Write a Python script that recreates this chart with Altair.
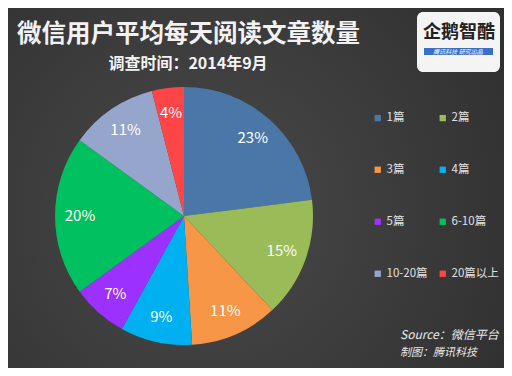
import altair as alt
import pandas as pd

categories = ["1篇", "2篇", "3篇", "4篇", "5篇", "6-10篇", "10-20篇", "20篇以上"]
shares = [23, 15, 11, 9, 7, 20, 11, 4]
colors = ["#4a76a8", "#9bbb59", "#f79646", "#00b0f0", "#9b30ff", "#00c060", "#95a5cc", "#ff4545"]
labels = [f"{v}%" for v in shares]

title_text = "微信用户平均每天阅读文章数量"
subtitle_text = "调查时间：2014年9月"
source_lines = ["Source：微信平台", "制图：腾讯科技"]
logo_main = "企鹅智酷"
logo_sub = "腾讯科技  研究出品"

W, H = 496, 360
FONT = "Noto Sans CJK SC"

df = pd.DataFrame({"cat": categories, "share": shares, "label": labels,
                   "idx": list(range(len(categories)))})
one = pd.DataFrame({"a": [0]})

bg = alt.Chart(one).mark_rect(
    fill={"gradient": "radial", "x1": 0.4, "y1": 0.55, "x2": 0.4, "y2": 0.55,
          "r1": 0, "r2": 0.75,
          "stops": [{"offset": 0, "color": "#4a4a4a"}, {"offset": 1, "color": "#2e2e2e"}]}
).encode(x=alt.value(0), x2=alt.value(W), y=alt.value(0), y2=alt.value(H))

base = alt.Chart(df).encode(
    theta=alt.Theta("share:Q", stack=True),
    order=alt.Order("idx:Q"),
)

pie = base.mark_arc(radius=129).encode(
    x=alt.value(176), y=alt.value(208),
    color=alt.Color("cat:N", scale=alt.Scale(domain=categories, range=colors),
                    legend=alt.Legend(orient="none", legendX=364, legendY=104, columns=2,
                                      direction="horizontal",
                                      title=None, symbolType="square", symbolSize=40,
                                      symbolStrokeWidth=0, labelColor="#e0e0e0",
                                      labelFontSize=11.5, labelFont=FONT, labelOffset=3,
                                      rowPadding=39, columnPadding=9)),
)

pie_labels = base.mark_text(radius=104, fontSize=15, font=FONT, color="#ffffff").encode(
    x=alt.value(176), y=alt.value(208), text="label:N")

title = alt.Chart(one).mark_text(text=title_text, fontSize=24.5, fontWeight="bold", font=FONT,
                                 color="#f2f2f2", align="left", baseline="middle").encode(
    x=alt.value(9), y=alt.value(27))
subtitle = alt.Chart(one).mark_text(text=subtitle_text, fontSize=16, fontWeight="bold", font=FONT,
                                    color="#f2f2f2", align="center", baseline="middle").encode(
    x=alt.value(180), y=alt.value(56))

src1 = alt.Chart(one).mark_text(text=source_lines[0], fontSize=12, fontStyle="italic", font=FONT,
                                color="#e8e8e8", align="left", baseline="middle").encode(
    x=alt.value(392), y=alt.value(327))
src2 = alt.Chart(one).mark_text(text=source_lines[1], fontSize=11, fontStyle="italic", font=FONT,
                                color="#e8e8e8", align="left", baseline="middle").encode(
    x=alt.value(392), y=alt.value(345))

logo_box = alt.Chart(one).mark_rect(fill="#f4f4f4", cornerRadius=6).encode(
    x=alt.value(409), x2=alt.value(492), y=alt.value(4), y2=alt.value(64))
logo_bar = alt.Chart(one).mark_rect(fill="#3b6fc8").encode(
    x=alt.value(416), x2=alt.value(485), y=alt.value(40), y2=alt.value(47))
logo_t1 = alt.Chart(one).mark_text(text=logo_main, fontSize=18, fontWeight="bold", font=FONT,
                                   color="#222222", align="center", baseline="middle").encode(
    x=alt.value(451), y=alt.value(25))
logo_t2 = alt.Chart(one).mark_text(text=logo_sub, fontSize=6, fontStyle="italic", font=FONT,
                                   color="#ffffff", align="center", baseline="middle").encode(
    x=alt.value(450), y=alt.value(43.5))

chart = alt.layer(bg, pie, pie_labels, title, subtitle, src1, src2,
                  logo_box, logo_bar, logo_t1, logo_t2).properties(
    width=W, height=H, padding=0, autosize=alt.AutoSizeParams(type="none"),
    background="#3a3a3a",
).configure_view(stroke=None)

chart.save("out.html", embed_options={"renderer": "svg", "actions": False})
